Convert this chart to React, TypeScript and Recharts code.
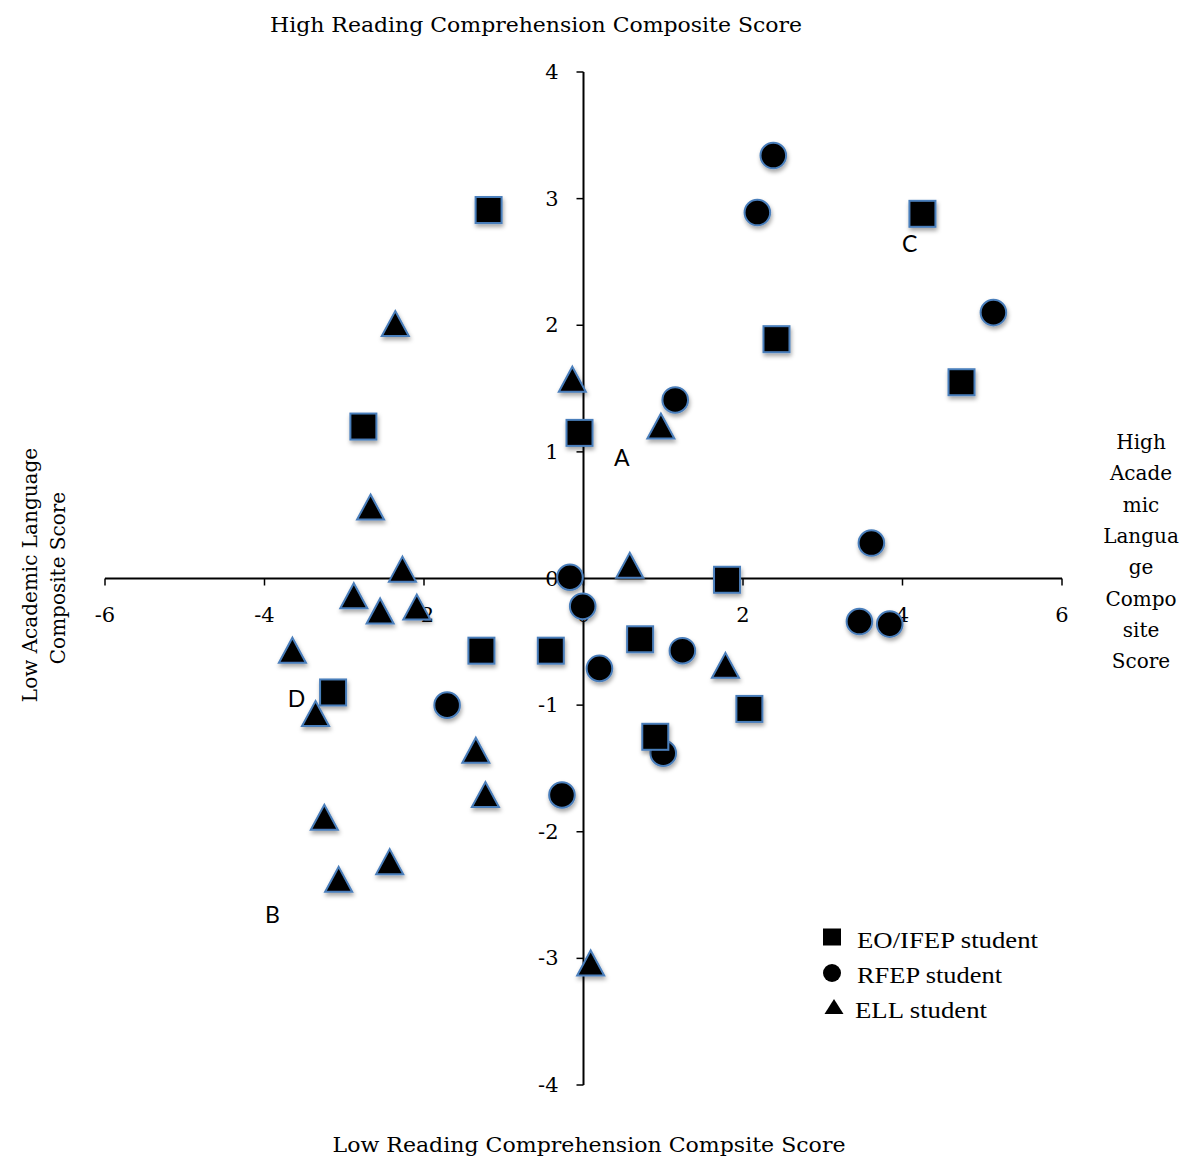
import React from "react";
import { ScatterChart, Scatter, XAxis, YAxis, ReferenceLine, ReferenceDot } from "recharts";

// ---- data ----
const eoIfep = [
  { x: -1.19, y: 2.91 }, { x: 4.25, y: 2.88 }, { x: 2.42, y: 1.89 }, { x: 4.74, y: 1.55 },
  { x: -2.76, y: 1.2 }, { x: -0.05, y: 1.15 }, { x: 1.8, y: -0.01 }, { x: -1.28, y: -0.57 },
  { x: -0.41, y: -0.57 }, { x: 0.71, y: -0.48 }, { x: -3.14, y: -0.9 }, { x: 2.08, y: -1.03 },
  { x: 0.9, y: -1.25 },
];
const rfep = [
  { x: 2.38, y: 3.34 }, { x: 2.18, y: 2.89 }, { x: 5.14, y: 2.1 }, { x: 1.15, y: 1.41 },
  { x: 3.61, y: 0.28 }, { x: -0.17, y: 0.01 }, { x: -0.01, y: -0.22 }, { x: 3.46, y: -0.34 },
  { x: 3.84, y: -0.36 }, { x: 1.24, y: -0.57 }, { x: 0.2, y: -0.71 }, { x: -1.71, y: -1.0 },
  { x: 1.0, y: -1.38 }, { x: -0.27, y: -1.71 },
];
const ell = [
  { x: -2.36, y: 2.01 }, { x: -0.14, y: 1.57 }, { x: 0.97, y: 1.2 }, { x: -2.67, y: 0.56 },
  { x: -2.27, y: 0.07 }, { x: 0.58, y: 0.1 }, { x: -2.88, y: -0.14 }, { x: -2.55, y: -0.26 },
  { x: -2.09, y: -0.23 }, { x: -3.65, y: -0.57 }, { x: 1.78, y: -0.69 }, { x: -3.36, y: -1.07 },
  { x: -1.35, y: -1.36 }, { x: -1.23, y: -1.71 }, { x: -3.25, y: -1.89 }, { x: -2.43, y: -2.24 },
  { x: -3.07, y: -2.38 }, { x: 0.09, y: -3.04 },
];
const annotations = [
  { label: "A", x: 0.48, y: 0.96 },
  { label: "B", x: -3.9, y: -2.65 },
  { label: "C", x: 4.09, y: 2.65 },
  { label: "D", x: -3.6, y: -0.94 },
];
const xTicks = [-6, -4, -2, 0, 2, 4, 6];
const yTicks = [-4, -3, -2, -1, 0, 1, 2, 3, 4];
const legendItems = [
  { name: "EO/IFEP student", shape: "square" },
  { name: "RFEP student", shape: "circle" },
  { name: "ELL student", shape: "triangle" },
];
const topTitle = "High Reading Comprehension Composite Score";
const bottomTitle = "Low Reading Comprehension Compsite Score";
const leftTitle = ["Low Academic Language", "Composite Score"];
const rightTitle = ["High", "Acade", "mic", "Langua", "ge", "Compo", "site", "Score"];

// ---- styles ----
const W = 1182;
const H = 1154;
const MARKER_FILL = "#000";
const MARKER_STROKE = "#4a7ebb";
const SERIF = "'DejaVu Serif', serif";
const TIMES = "'Liberation Serif', serif";

const SquareMark = (p: any) => (
  <rect x={p.cx - 13} y={p.cy - 13} width={26} height={26} fill={MARKER_FILL}
    stroke={MARKER_STROKE} strokeWidth={2} filter="url(#mkShadow)" />
);
const CircleMark = (p: any) => (
  <circle cx={p.cx} cy={p.cy} r={12.8} fill={MARKER_FILL} stroke={MARKER_STROKE}
    strokeWidth={2} filter="url(#mkShadow)" />
);
const TriangleMark = (p: any) => (
  <path d={`M${p.cx},${p.cy - 13} L${p.cx + 13.5},${p.cy + 12} L${p.cx - 13.5},${p.cy + 12} Z`}
    fill={MARKER_FILL} stroke={MARKER_STROKE} strokeWidth={2} strokeLinejoin="miter"
    filter="url(#mkShadow)" />
);

const XTickShape = (p: any) => (
  <g>
    <line x1={p.cx} y1={p.cy} x2={p.cx} y2={p.cy + 7} stroke="#000" strokeWidth={1.5} />
    <text x={p.cx} y={p.cy + 36} textAnchor="middle" dominantBaseline="central"
      fontFamily={SERIF} fontSize={21} fill="#000">{p.label}</text>
  </g>
);
const YTickShape = (p: any) => (
  <g>
    <line x1={p.cx - 7} y1={p.cy} x2={p.cx} y2={p.cy} stroke="#000" strokeWidth={1.5} />
    <text x={p.cx - 25} y={p.cy} textAnchor="end" dominantBaseline="central"
      fontFamily={SERIF} fontSize={21} fill="#000">{p.label}</text>
  </g>
);
const AnnotShape = (p: any) => (
  <text x={p.cx} y={p.cy} textAnchor="middle" dominantBaseline="central"
    fontFamily="Lato, 'Open Sans', sans-serif" fontSize={23} fill="#000">{p.label}</text>
);

const LegendIcon = ({ shape, cx, cy }: any) => {
  if (shape === "square") return <rect x={cx - 9} y={cy - 8.5} width={18} height={17} fill="#000" />;
  if (shape === "circle") return <circle cx={cx} cy={cy} r={9} fill="#000" />;
  return <path d={`M${cx},${cy - 8} L${cx + 9.5},${cy + 7} L${cx - 9.5},${cy + 7} Z`} fill="#000" />;
};

export default function App() {
  const legendRows = [
    { iconX: 824, iconY: 929, textX: 849, baseY: 940, len: 181 },
    { iconX: 824, iconY: 965, textX: 849, baseY: 975, len: 145 },
    { iconX: 826, iconY: 999, textX: 847, baseY: 1010, len: 132 },
  ];
  return (
    <div style={{ position: "relative", width: W, height: H }}>
      <svg width={0} height={0} style={{ position: "absolute" }}>
        <defs>
          <filter id="mkShadow" x="-50%" y="-50%" width="200%" height="200%">
            <feDropShadow dx="1" dy="3" stdDeviation="2" floodColor="#000" floodOpacity="0.35" />
          </filter>
        </defs>
      </svg>
      <ScatterChart width={W} height={H} margin={{ top: 64, left: 97, right: 128, bottom: 77 }}>
        <XAxis type="number" dataKey="x" domain={[-6, 6]} hide allowDataOverflow />
        <YAxis type="number" dataKey="y" domain={[-4, 4]} hide allowDataOverflow />
        <ReferenceLine x={0} stroke="#000" strokeWidth={2} />
        <ReferenceLine y={0} stroke="#000" strokeWidth={2} />
        {xTicks.map((t) => (
          <ReferenceDot key={"xt" + t} x={t} y={0} ifOverflow="visible"
            shape={(p: any) => <XTickShape {...p} label={t} />} />
        ))}
        {yTicks.map((t) => (
          <ReferenceDot key={"yt" + t} x={0} y={t} ifOverflow="visible"
            shape={(p: any) => <YTickShape {...p} label={t} />} />
        ))}
        {annotations.map((a) => (
          <ReferenceDot key={"an" + a.label} x={a.x} y={a.y} ifOverflow="visible"
            shape={(p: any) => <AnnotShape {...p} label={a.label} />} />
        ))}
        <Scatter name="RFEP student" data={rfep} isAnimationActive={false}
          shape={(p: any) => <CircleMark {...p} />} />
        <Scatter name="EO/IFEP student" data={eoIfep} isAnimationActive={false}
          shape={(p: any) => <SquareMark {...p} />} />
        <Scatter name="ELL student" data={ell} isAnimationActive={false}
          shape={(p: any) => <TriangleMark {...p} />} />
      </ScatterChart>
      <svg width={W} height={H} style={{ position: "absolute", left: 0, top: 0, pointerEvents: "none" }}>
        <text x={528} y={24} textAnchor="middle" fontFamily={SERIF} fontSize={20}
          textLength={532} lengthAdjust="spacingAndGlyphs">{topTitle}</text>
        <text x={581} y={1144} textAnchor="middle" fontFamily={SERIF} fontSize={20}
          textLength={513} lengthAdjust="spacingAndGlyphs">{bottomTitle}</text>
        <text x={29} y={567} textAnchor="middle" fontFamily={SERIF} fontSize={20}
          transform="rotate(-90, 29, 567)">{leftTitle[0]}</text>
        <text x={57} y={570} textAnchor="middle" fontFamily={SERIF} fontSize={20}
          transform="rotate(-90, 57, 570)">{leftTitle[1]}</text>
        {rightTitle.map((s, i) => (
          <text key={s} x={1133} y={441 + i * 31.3} textAnchor="middle" fontFamily={SERIF} fontSize={20}>{s}</text>
        ))}
        {legendItems.map((it, i) => {
          const r = legendRows[i];
          return (
            <g key={it.name}>
              <LegendIcon shape={it.shape} cx={r.iconX} cy={r.iconY} />
              <text x={r.textX} y={r.baseY} fontFamily={TIMES} fontSize={23}
                textLength={r.len} lengthAdjust="spacingAndGlyphs">{it.name}</text>
            </g>
          );
        })}
      </svg>
    </div>
  );
}
